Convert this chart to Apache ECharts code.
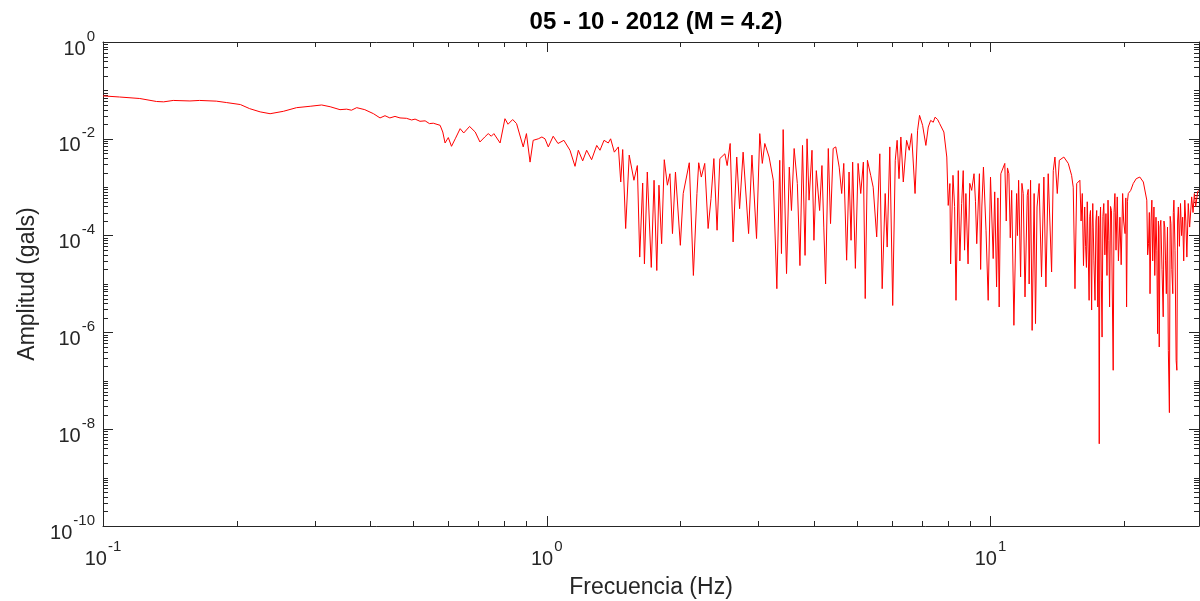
<!DOCTYPE html>
<html>
<head>
<meta charset="utf-8">
<script src="https://cdn.jsdelivr.net/npm/echarts@6/dist/echarts.min.js"></script>
<style>
  html, body { margin: 0; padding: 0; background: #ffffff; }
  #chart { width: 1200px; height: 601px; }
</style>
</head>
<body>
<div id="chart"></div>
<script>
// Texts
const titleText = '05 - 10 - 2012 (M = 4.2)';
const xAxisName = 'Frecuencia (Hz)';
const yAxisName = 'Amplitud (gals)';

// Axis ranges and tick positions
const freqMin = 0.1, freqMax = 29.5;
const ampMin = 1e-10, ampMax = 1;
const minorMultipliers = [2, 3, 4, 5, 6, 7, 8, 9];
const freqDecades = [-1, 0, 1];
const ampDecades = [-10, -9, -8, -7, -6, -5, -4, -3, -2, -1];
const ampOddDecades = [1e-9, 1e-7, 1e-5, 1e-3, 1e-1];

// Fourier amplitude spectrum, [frequency (Hz), amplitude (gals)]
const lowBand = [
  [0.1, 7.7e-2], [0.109, 7.3e-2], [0.121, 6.8e-2], [0.132, 5.9e-2], [0.137, 5.8e-2],
  [0.144, 6.2e-2], [0.157, 6.05e-2], [0.165, 6.2e-2], [0.180, 6.0e-2], [0.190, 5.6e-2],
  [0.204, 5.1e-2], [0.214, 4.2e-2], [0.226, 3.6e-2], [0.238, 3.3e-2], [0.255, 3.7e-2],
  [0.273, 4.4e-2], [0.293, 4.7e-2], [0.311, 5.0e-2], [0.325, 4.6e-2], [0.342, 4.0e-2],
  [0.354, 4.1e-2], [0.363, 3.9e-2], [0.373, 4.4e-2], [0.389, 4.0e-2], [0.407, 3.3e-2],
  [0.421, 2.7e-2], [0.432, 3.0e-2], [0.443, 2.7e-2], [0.455, 2.9e-2], [0.467, 2.7e-2],
  [0.483, 2.65e-2], [0.496, 2.45e-2], [0.505, 2.55e-2], [0.518, 2.3e-2], [0.532, 2.35e-2],
  [0.544, 2.06e-2]
];

const transitionBand = [
  [0.555, 2.1e-2], [0.575, 1.9e-2], [0.583, 1.38e-2], [0.59, 8.2e-3], [0.60, 1.06e-2],
  [0.61, 7.0e-3], [0.622, 1.0e-2], [0.638, 1.62e-2], [0.65, 1.32e-2], [0.67, 1.8e-2],
  [0.69, 1.38e-2], [0.707, 8.6e-3], [0.725, 1.09e-2], [0.738, 1.28e-2], [0.75, 1.13e-2],
  [0.76, 1.28e-2], [0.785, 8.2e-3], [0.805, 2.6e-2], [0.818, 2.0e-2], [0.838, 2.5e-2],
  [0.855, 2.06e-2], [0.885, 6.8e-3], [0.90, 1.28e-2], [0.917, 3.3e-3], [0.932, 9.3e-3],
  [0.957, 1.0e-2], [0.975, 1.09e-2], [0.991, 1.0e-2], [1.008, 6.8e-3], [1.034, 1.13e-2],
  [1.06, 8.0e-3], [1.093, 9.3e-3], [1.128, 5.8e-3], [1.158, 2.7e-3], [1.178, 5.8e-3],
  [1.205, 3.5e-3], [1.23, 5.8e-3], [1.262, 3.7e-3], [1.296, 7.3e-3], [1.318, 5.8e-3],
  [1.346, 9.3e-3], [1.376, 8.2e-3], [1.393, 1.0e-2]
];

const midBand = [
  [1.42, 5.3e-3], [1.45, 6.8e-3], [1.468, 1.28e-3], [1.483, 6.0e-3], [1.506, 1.4e-4],
  [1.534, 4.6e-3], [1.572, 1.39e-3], [1.6, 2.8e-3], [1.62, 3.6e-5], [1.645, 1.22e-3],
  [1.66, 2.6e-5], [1.685, 2.06e-3], [1.72, 2.2e-5], [1.745, 1.39e-3], [1.77, 1.9e-5],
  [1.79, 1.1e-3], [1.815, 6.8e-5], [1.84, 3.7e-3], [1.87, 1.1e-3], [1.895, 1.9e-3],
  [1.92, 1.1e-4], [1.95, 2.06e-3], [2.0, 6.3e-5], [2.03, 7.4e-4], [2.095, 3.2e-3],
  [2.14, 1.5e-5], [2.18, 7.4e-4], [2.2, 3.2e-3], [2.23, 1.62e-3], [2.27, 3.1e-3],
  [2.31, 1.4e-4], [2.345, 5.8e-4], [2.38, 3.9e-3], [2.42, 1.29e-4], [2.455, 3.9e-3],
  [2.52, 4.9e-3], [2.55, 2.8e-3], [2.59, 8.0e-3], [2.63, 7.4e-5], [2.68, 4.2e-3],
  [2.72, 3.6e-4], [2.77, 5.3e-3], [2.85, 1.1e-4], [2.9, 4.6e-3], [2.97, 8.7e-5],
  [3.02, 1.28e-2], [3.06, 3.1e-3], [3.1, 8.0e-3], [3.17, 4.2e-3], [3.24, 1.39e-3],
  [3.3, 8.0e-6], [3.35, 3.6e-3], [3.38, 4.25e-5], [3.41, 1.55e-2], [3.47, 1.64e-5],
  [3.52, 2.6e-3], [3.56, 3.3e-4], [3.61, 6.3e-3], [3.67, 1.19e-3], [3.72, 2.4e-5],
  [3.77, 7.3e-3], [3.82, 3.9e-5], [3.86, 1.0e-2]
];

const peakBand = [
  [3.9, 5.4e-4], [3.96, 5.8e-3], [4.0, 8.0e-5], [4.05, 2.2e-3], [4.12, 3.3e-4],
  [4.17, 2.8e-3], [4.21, 1.5e-4], [4.25, 1.0e-5], [4.31, 6.3e-3], [4.36, 1.77e-4],
  [4.42, 6.3e-3], [4.48, 6.8e-3], [4.56, 2.6e-3], [4.62, 7.4e-4], [4.67, 3.1e-3],
  [4.74, 3.1e-5], [4.8, 2.06e-3], [4.85, 8.0e-5], [4.89, 3.3e-3], [4.96, 2.1e-5],
  [5.03, 3.1e-3], [5.1, 7.4e-4], [5.17, 3.3e-3], [5.22, 5.0e-6], [5.28, 3.6e-3],
  [5.37, 1.76e-3], [5.44, 1.0e-3], [5.54, 9.4e-5], [5.63, 4.9e-3], [5.7, 8.0e-6],
  [5.79, 7.4e-4], [5.85, 5.8e-5], [5.93, 6.8e-3], [6.02, 3.6e-6], [6.1, 3.6e-3],
  [6.16, 9.3e-3], [6.22, 1.5e-3], [6.28, 1.09e-2], [6.36, 1.28e-3], [6.47, 9.3e-3],
  [6.56, 5.8e-3], [6.64, 1.28e-2], [6.76, 7.4e-4], [6.85, 1.5e-2], [6.92, 3.05e-2],
  [7.03, 1.9e-2], [7.15, 7.3e-3], [7.24, 1.75e-2], [7.33, 2.4e-2], [7.43, 2.2e-2],
  [7.5, 2.8e-2], [7.6, 2.5e-2], [7.68, 2.06e-2], [7.85, 1.38e-2], [7.97, 4.2e-3],
  [8.03, 4.2e-4], [8.1, 1.19e-3], [8.13, 2.6e-5], [8.23, 1.76e-3], [8.3, 4.0e-4],
  [8.36, 4.6e-6], [8.46, 2.2e-3], [8.53, 3.0e-5], [8.61, 4.6e-4], [8.68, 2.2e-3],
  [8.74, 5.0e-5], [8.8, 7.4e-4], [8.9, 2.6e-5], [8.98, 1.2e-3], [9.07, 8.6e-4],
  [9.18, 1.9e-3], [9.25, 5.0e-4], [9.31, 6.8e-5], [9.44, 1.9e-3], [9.5, 2.0e-5],
  [9.56, 3.9e-4], [9.64, 2.6e-3], [9.77, 1.29e-4]
];

const highBand = [
  [9.88, 4.6e-6], [10.0, 1.62e-3], [10.14, 3.35e-5], [10.22, 8.0e-4], [10.32, 8.7e-6],
  [10.39, 6.0e-4], [10.46, 3.35e-6], [10.55, 1.9e-3], [10.77, 3.1e-3], [10.85, 2.0e-4],
  [10.92, 2.5e-3], [11.0, 1.9e-3], [11.08, 9.0e-5], [11.16, 8.6e-4], [11.29, 1.4e-6],
  [11.45, 7.4e-4], [11.5, 1.0e-4], [11.57, 1.39e-3], [11.69, 1.4e-5], [11.77, 1.2e-3],
  [11.85, 7.4e-4], [11.96, 5.4e-6], [12.1, 6.8e-4], [12.16, 9.0e-4], [12.22, 1.0e-5],
  [12.31, 1.39e-3], [12.41, 1.1e-6], [12.54, 7.4e-4], [12.63, 1.52e-6], [12.73, 3.9e-4],
  [12.87, 1.19e-3], [13.03, 1.4e-5], [13.19, 1.62e-3], [13.33, 8.7e-6], [13.49, 1.9e-3],
  [13.73, 1.77e-5], [13.85, 2.2e-3], [13.97, 4.2e-3], [14.14, 7.4e-4], [14.29, 3.6e-3],
  [14.63, 4.2e-3], [14.97, 3.1e-3], [15.23, 1.76e-3], [15.36, 1.0e-3], [15.5, 8.0e-6],
  [15.64, 1.19e-3], [15.9, 1.39e-3], [16.0, 2.0e-4], [16.1, 7.4e-4], [16.2, 2.4e-5],
  [16.3, 3.9e-4], [16.38, 6.0e-5], [16.45, 2.2e-5], [16.52, 5.0e-4], [16.6, 4.6e-4],
  [16.68, 4.6e-6], [16.74, 2.5e-4], [16.8, 3.3e-4], [16.9, 2.9e-6], [16.95, 1.5e-4],
  [17.0, 4.6e-4], [17.1, 3.0e-5], [17.2, 4.6e-6], [17.28, 2.0e-4], [17.35, 3.3e-4],
  [17.45, 3.35e-6], [17.52, 2.5e-4], [17.58, 5.0e-9], [17.64, 1.5e-4], [17.7, 3.9e-4],
  [17.77, 1.2e-5], [17.84, 8.0e-7], [17.92, 2.5e-4], [18.0, 4.6e-4], [18.1, 4.0e-5],
  [18.2, 2.85e-4], [18.3, 1.5e-5], [18.4, 5.4e-4], [18.48, 8.0e-5], [18.55, 3.35e-6],
  [18.64, 4.0e-4], [18.73, 3.3e-4], [18.8, 1.0e-5], [18.9, 1.65e-7], [18.98, 3.0e-4],
  [19.07, 7.4e-4], [19.18, 5.0e-5], [19.3, 6.3e-4], [19.42, 3.0e-5], [19.57, 2.4e-4],
  [19.7, 2.5e-5], [19.85, 7.4e-4], [19.95, 2.0e-4], [20.1, 1.1e-4], [20.18, 6.0e-4],
  [20.26, 3.35e-6], [20.35, 5.0e-4], [20.44, 7.4e-4], [20.7, 8.6e-4], [20.97, 1.19e-3],
  [21.3, 1.5e-3], [21.7, 1.62e-3], [22.1, 1.28e-3], [22.5, 5.4e-4], [22.6, 4.0e-5],
  [22.7, 6.8e-5], [22.8, 3.0e-4], [22.88, 6.3e-6], [23.0, 2.0e-4], [23.1, 5.4e-4],
  [23.2, 3.0e-5], [23.35, 3.9e-4], [23.45, 1.5e-5], [23.6, 2.4e-4], [23.7, 5.0e-5],
  [23.8, 9.4e-7], [23.9, 2.0e-4], [24.0, 5.0e-7], [24.1, 1.5e-4], [24.2, 2.07e-4],
  [24.35, 2.0e-5], [24.5, 2.1e-6], [24.6, 2.0e-4], [24.7, 1.5e-4], [24.8, 3.0e-5],
  [24.9, 6.3e-6], [25.05, 1.5e-4], [25.16, 4.25e-7], [25.3, 2.2e-8], [25.4, 2.5e-4],
  [25.5, 1.77e-4], [25.62, 2.0e-5], [25.75, 6.3e-6], [25.82, 3.0e-4], [25.9, 5.4e-4],
  [26.05, 5.0e-5], [26.2, 2.65e-7], [26.3, 1.65e-7], [26.4, 2.0e-4], [26.5, 3.9e-4],
  [26.65, 6.0e-5], [26.8, 4.6e-4], [26.95, 1.0e-4], [27.1, 2.4e-4], [27.25, 3.0e-5],
  [27.4, 5.4e-4], [27.55, 2.0e-4], [27.7, 3.6e-5], [27.9, 4.6e-4], [28.1, 1.5e-4],
  [28.4, 6.3e-4], [28.6, 3.0e-4], [28.8, 7.4e-4], [29.0, 4.0e-4], [29.3, 8.2e-4],
  [29.5, 8.5e-4]
];

const spectrum = lowBand.concat(transitionBand, midBand, peakBand, highBand);

const INK = '#262626';
const FONT = '"Liberation Sans", Arial, Helvetica, sans-serif';
const MAJOR_TICK = 10;
const MINOR_TICK = 5;

// Labels of the form 10^n, only on exact powers of ten
function powerLabel(value) {
  const e = Math.log10(value);
  const r = Math.round(e);
  if (Math.abs(e - r) > 1e-6) return '';
  return '{b|10}{s|' + r + '}';
}

// Base digits sit at the bottom of a tall line box, the exponent at its top
const labelRich = {
  b: { fontSize: 20, lineHeight: 30, verticalAlign: 'bottom', color: INK, fontFamily: FONT },
  s: { fontSize: 15, lineHeight: 14, verticalAlign: 'top', padding: [0, 0, 0, 1], color: INK, fontFamily: FONT }
};

function baseAxis(extra) {
  return Object.assign({
    type: 'log',
    logBase: 10,
    splitLine: { show: false },
    minorTick: { show: false },
    minorSplitLine: { show: false },
    axisLine: { show: true, onZero: false, lineStyle: { color: INK, width: 1 } },
    axisTick: { show: true, inside: true, length: MAJOR_TICK, lineStyle: { color: INK, width: 1 } }
  }, extra);
}

const chart = echarts.init(document.getElementById('chart'), null, { renderer: 'canvas' });

const option = {
  animation: false,
  backgroundColor: '#ffffff',
  title: {
    text: titleText,
    left: 651,
    top: 5,
    textAlign: 'center',
    textStyle: { fontFamily: FONT, fontSize: 24, fontWeight: 'bold', color: '#000000' }
  },
  grid: { left: 103, right: 1, top: 42, bottom: 75, containLabel: false, outerBoundsMode: 'none' },
  xAxis: [
    baseAxis({
      position: 'bottom',
      min: freqMin, max: freqMax, interval: 1,
      name: xAxisName,
      nameLocation: 'middle',
      nameGap: 50,
      nameTextStyle: { fontFamily: FONT, fontSize: 23, color: INK },
      axisLabel: { show: true, margin: 13, formatter: powerLabel, rich: labelRich, showMaxLabel: false }
    }),
    baseAxis({
      position: 'top',
      min: freqMin, max: freqMax, interval: 1,
      axisLabel: { show: false }
    })
  ],
  yAxis: [
    baseAxis({
      position: 'left',
      min: ampMin, max: ampMax, interval: 2,
      name: yAxisName,
      nameLocation: 'middle',
      nameGap: 64,
      nameTextStyle: { fontFamily: FONT, fontSize: 23, color: INK },
      axisLabel: { show: true, margin: 8, padding: [4, 0, 0, 0], formatter: powerLabel, rich: labelRich }
    }),
    baseAxis({
      position: 'right',
      min: ampMin, max: ampMax, interval: 2,
      axisLabel: { show: false }
    })
  ],
  series: [{
    type: 'line',
    xAxisIndex: 0,
    yAxisIndex: 0,
    data: spectrum,
    showSymbol: false,
    symbol: 'none',
    clip: true,
    lineStyle: { color: '#ff0000', width: 1 },
    emphasis: { disabled: true }
  }]
};

chart.setOption(option);

// Minor ticks at 2..9 x 10^n on all four sides of the box
const xLeft = chart.convertToPixel({ xAxisIndex: 0 }, freqMin);
const xRight = chart.convertToPixel({ xAxisIndex: 0 }, freqMax);
const yBottom = chart.convertToPixel({ yAxisIndex: 0 }, ampMin);
const yTop = chart.convertToPixel({ yAxisIndex: 0 }, ampMax);
const tickStyle = { stroke: INK, lineWidth: 1 };
const graphics = [];

freqDecades.forEach(function (d) {
  minorMultipliers.forEach(function (m) {
    const v = m * Math.pow(10, d);
    if (v <= freqMin || v >= freqMax) return;
    const px = Math.round(chart.convertToPixel({ xAxisIndex: 0 }, v)) + 0.5;
    graphics.push({ type: 'line', silent: true, shape: { x1: px, y1: yBottom, x2: px, y2: yBottom - MINOR_TICK }, style: tickStyle });
    graphics.push({ type: 'line', silent: true, shape: { x1: px, y1: yTop, x2: px, y2: yTop + MINOR_TICK }, style: tickStyle });
  });
});

const yMinorValues = ampOddDecades.slice();
ampDecades.forEach(function (d) {
  minorMultipliers.forEach(function (m) { yMinorValues.push(m * Math.pow(10, d)); });
});
yMinorValues.forEach(function (v) {
  if (v <= ampMin || v >= ampMax) return;
  const py = Math.round(chart.convertToPixel({ yAxisIndex: 0 }, v)) + 0.5;
  graphics.push({ type: 'line', silent: true, shape: { x1: xLeft, y1: py, x2: xLeft + MINOR_TICK, y2: py }, style: tickStyle });
  graphics.push({ type: 'line', silent: true, shape: { x1: xRight, y1: py, x2: xRight - MINOR_TICK, y2: py }, style: tickStyle });
});

chart.setOption({ graphic: graphics });
</script>
</body>
</html>
